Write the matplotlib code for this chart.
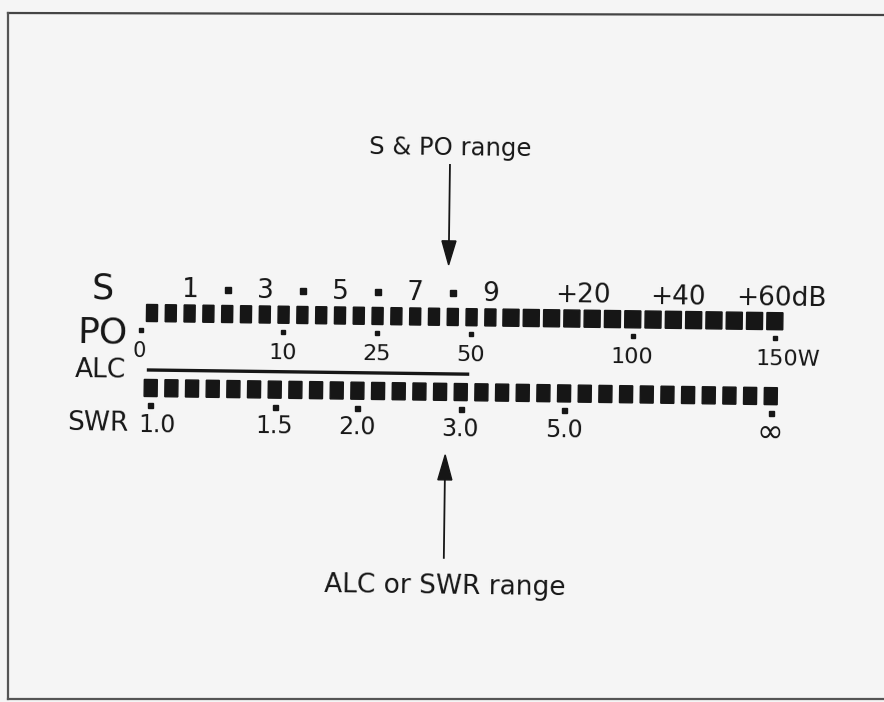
import numpy as np
import matplotlib.pyplot as plt
import matplotlib.transforms as mtransforms
from matplotlib.patches import Rectangle, Polygon

# ------------------------------------------------------------
#  meter scales (positions are in segment units of each bar row)
# ------------------------------------------------------------
n_top_narrow = 19      # S1..S9 part of the upper bar
n_top_wide = 14        # +dB part of the upper bar
n_bottom = 31          # lower bar (ALC / SWR)

s_labels = ["1", "3", "5", "7", "9", "+20", "+40", "+60dB"]
s_pos = [2, 6, 10, 14, 18, 22.55, 27.2, 32.3]
s_dot_pos = [4, 8, 12, 16]

po_labels = ["0", "10", "25", "50", "100", "150W"]
po_pos = [-0.55, 7, 12, 17, 25, 32]
po_shift = [-2, 0, 0, 0, 0, 14]

swr_labels = ["1.0", "1.5", "2.0", "3.0", "5.0", "\u221e"]
swr_pos = [0, 6, 10, 15, 20, 30]
swr_shift = [7, 0, 0, 0, 0, 0]

alc_span = [-0.2, 15.4]   # ALC zone in lower-bar units


def top_x(i):
    i = np.asarray(i, dtype=float)
    return np.where(i < n_top_narrow, 152 + 18.8 * i,
                    511 + 20.3 * (i - n_top_narrow))


def bot_x(i):
    return 151.7 + 20.67 * np.asarray(i, dtype=float)


fig = plt.figure(figsize=(8.84, 7.02), dpi=100)
fig.patch.set_facecolor('#f5f5f5')
ax = fig.add_axes([0, 0, 1, 1])
ax.set_xlim(0, 884)
ax.set_ylim(702, 0)
ax.axis('off')

INK = '#161616'

# frame of the figure
ax.plot([8, 884], [13, 15], color='#444444', lw=1.6)
ax.plot([8, 8], [13, 699], color='#555555', lw=1.6)
ax.plot([8, 884], [699, 699], color='#555555', lw=1.6)

# the scan is a little tilted
tilt = mtransforms.Affine2D().rotate_deg_around(150, 313, 0.75) + ax.transData
rot = -0.75

# upper bar
for i in range(n_top_narrow):
    x = float(top_x(i))
    ax.add_patch(Rectangle((x - 5.5, 304.5), 11, 17, color=INK, transform=tilt))
for j in range(n_top_wide):
    x = float(top_x(n_top_narrow + j))
    ax.add_patch(Rectangle((x - 8, 304.5), 16, 17, color=INK, transform=tilt))

# lower bar
for i in range(n_bottom):
    x = float(bot_x(i))
    ax.add_patch(Rectangle((x - 6.5, 379.5), 13, 17, color=INK, transform=tilt))

# S scale
for lab, p in zip(s_labels, s_pos):
    ax.text(float(top_x(p)), 290, lab, fontsize=19, color=INK, ha='center',
            va='center', transform=tilt, rotation=rot, rotation_mode='anchor')
ax.plot(top_x(s_dot_pos), [289] * len(s_dot_pos), 's', color=INK, ms=5,
        transform=tilt)

# PO scale
ax.plot(top_x(po_pos), [330] * len(po_pos), 's', color=INK, ms=3.4,
        transform=tilt)
for lab, p, d in zip(po_labels, po_pos, po_shift):
    fs = 15 if lab == "0" else 16
    ax.text(float(top_x(p)) + d, 351, lab, fontsize=fs, color=INK,
            ha='center', va='center', transform=tilt, rotation=rot,
            rotation_mode='anchor')

# ALC zone
ax.plot(bot_x(alc_span), [370, 370], color=INK, lw=2.4, transform=tilt,
        solid_capstyle='butt')

# SWR scale
ax.plot(bot_x(swr_pos), [405] * len(swr_pos), 's', color=INK, ms=3.6,
        transform=tilt)
for lab, p, d in zip(swr_labels, swr_pos, swr_shift):
    fs = 23 if lab == "\u221e" else 17
    ax.text(float(bot_x(p)) + d, 425, lab, fontsize=fs, color=INK,
            ha='center', va='center', transform=tilt, rotation=rot,
            rotation_mode='anchor')

# row names
row_names = ["S", "PO", "ALC", "SWR"]
row_x = [102.5, 103, 101.5, 99.5]
row_y = [289, 333, 371, 424]
row_fs = [25, 26, 19, 19]
for lab, x, y, fs in zip(row_names, row_x, row_y, row_fs):
    ax.text(x, y, lab, fontsize=fs, color=INK, ha='center', va='center',
            transform=tilt, rotation=rot, rotation_mode='anchor')

# range arrows
ax.plot([448, 448], [161, 240], color=INK, lw=1.3, transform=tilt)
ax.add_patch(Polygon([[441, 237], [455, 237], [448, 261]], closed=True,
                     color=INK, transform=tilt))
ax.text(448.5, 144, "S & PO range", fontsize=17.5, color=INK, ha='center',
        va='center', transform=tilt, rotation=rot, rotation_mode='anchor')

ax.plot([447, 447], [474, 554], color=INK, lw=1.3, transform=tilt)
ax.add_patch(Polygon([[440, 476], [454, 476], [447, 451]], closed=True,
                     color=INK, transform=tilt))
ax.text(448.5, 583, "ALC or SWR range", fontsize=19, color=INK, ha='center',
        va='center', transform=tilt, rotation=rot, rotation_mode='anchor')

fig.savefig('out.png', dpi=100, facecolor=fig.get_facecolor())
